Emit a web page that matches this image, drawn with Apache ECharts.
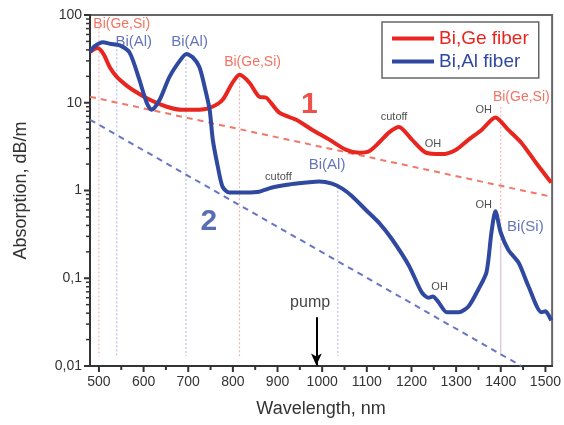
<!DOCTYPE html>
<html><head><meta charset="utf-8">
<script src="https://cdn.jsdelivr.net/npm/echarts@6/dist/echarts.min.js"></script>
<style>html,body{margin:0;padding:0;background:#fff}#c{width:564px;height:425px}</style>
</head><body><div id="c"></div>
<script>
// ---- data ----
const xMajorTicks = [500,600,700,800,900,1000,1100,1200,1300,1400,1500];
const xMinorTicks = [550,650,750,850,950,1050,1150,1250,1350,1450];
const yTickValues = [0.01,0.1,1,10,100];
const yTickLabels = ['0,01','0,1','1','10','100'];
const yMinorTicks = [0.02,0.03,0.04,0.05,0.06,0.07,0.08,0.09,0.2,0.3,0.4,0.5,0.6,0.7,0.8,0.9,2,3,4,5,6,7,8,9,20,30,40,50,60,70,80,90];
const X_MIN = 480, X_MAX = 1515, Y_MIN = 0.01, Y_MAX = 100;

const biGeFiber = [
 [480,38],[497,42],[510,36],[525,25],[540,19.7],[560,16],[576,14],[614,10.8],[652,9.0],[687,8.3],[725,8.3],[754,9.0],[777,10.8],[799,16.9],[815,20.8],[837,16.9],[859,11.7],[875,11.4],[904,7.7],[942,6.4],[978,4.9],[1016,3.8],[1054,2.9],[1083,2.7],[1105,2.8],[1127,3.5],[1150,4.6],[1172,5.3],[1201,3.8],[1232,2.7],[1268,2.6],[1299,2.9],[1328,3.8],[1357,4.9],[1388,6.8],[1417,4.9],[1446,3.5],[1478,2.1],[1513,1.23]
];
const biAlFiber = [
 [480,38],[490,44],[509,49],[525,47],[547,45],[569,37],[591,18],[607,10],[618,8.3],[636,10.8],[658,19.7],[681,30],[696,36],[710,33],[725,25.6],[737,15],[748,8.3],[755,3.8],[766,1.9],[777,1.1],[792,0.95],[830,0.95],[859,0.97],[888,1.08],[926,1.17],[964,1.23],[993,1.27],[1022,1.2],[1045,1.05],[1067,0.86],[1098,0.6],[1127,0.43],[1156,0.28],[1194,0.14],[1223,0.069],[1238,0.06],[1248,0.062],[1261,0.053],[1279,0.041],[1306,0.041],[1328,0.048],[1350,0.075],[1368,0.117],[1379,0.33],[1388,0.58],[1400,0.33],[1417,0.21],[1440,0.15],[1462,0.081],[1491,0.041],[1500,0.042],[1507,0.038],[1513,0.033]
];
const redBaseline = [[480,11.7],[1513,0.85]];
const blueBaseline = [[480,6.4],[1446,0.01]];
const redMarkers = [[500,80],[815,19],[1400,9]];
const blueMarkers = [[540,45],[695,35],[1035,1.1],[1400,0.24]];
const markerBottom = 0.013;
const pumpArrow = [[987,0.036],[987,0.0101]];

// annotations: [wavelength, value, text, group]
const annotations = [
 [551,79,'Bi(Ge,Si)','red'],
 [578,49,'Bi(Al)','blue'],
 [703,49,'Bi(Al)','blue'],
 [844,29,'Bi(Ge,Si)','red'],
 [971,9.5,'1','redBig'],
 [902,1.44,'cutoff','small'],
 [1011,1.97,'Bi(Al)','blue'],
 [1161,6.9,'cutoff','small'],
 [1248,3.4,'OH','small'],
 [1362,8.3,'OH','small'],
 [1446,11.7,'Bi(Ge,Si)','red'],
 [746,0.44,'2','blueBig'],
 [973,0.053,'pump','pump'],
 [1263,0.079,'OH','small'],
 [1362,0.69,'OH','small'],
 [1455,0.39,'Bi(Si)','blue']
];

// ---- styles ----
const RED = '#e8261f', BLUE = '#3049a0';
const styles = {
 red:{color:'#f0503c',fontSize:14},
 blue:{color:'#3d52a8',fontSize:15},
 redBig:{color:RED,fontSize:30,fontWeight:'bold'},
 blueBig:{color:'#3049a0',fontSize:30,fontWeight:'bold'},
 small:{color:'#222',fontSize:11},
 pump:{color:'#111',fontSize:16}
};
const FONT = 'Liberation Sans, Arial, sans-serif';

const series = [];
series.push({name:'Bi,Ge fiber',type:'line',data:biGeFiber,smooth:0.25,symbol:'none',z:5,
  lineStyle:{color:RED,width:4},itemStyle:{color:RED}});
series.push({name:'Bi,Al fiber',type:'line',data:biAlFiber,smooth:0.25,symbol:'none',z:6,
  lineStyle:{color:BLUE,width:4},itemStyle:{color:BLUE}});
series.push({type:'line',data:redBaseline,symbol:'none',silent:true,z:3,
  lineStyle:{color:'#f07868',width:2,type:[6,5]}});
series.push({type:'line',data:blueBaseline,symbol:'none',silent:true,z:3,
  lineStyle:{color:'#6676c4',width:2,type:[6,5]}});
redMarkers.forEach(m=>series.push({type:'line',data:[m,[m[0],markerBottom]],symbol:'none',silent:true,z:2,
  lineStyle:{color:'#f4a8a8',width:1,type:[2,2]}}));
blueMarkers.forEach(m=>series.push({type:'line',data:[m,[m[0],markerBottom]],symbol:'none',silent:true,z:2,
  lineStyle:{color:'#b0b8e4',width:1,type:[2,2]}}));
series.push({type:'line',data:[],symbol:'none',silent:true,
  markLine:{silent:true,symbol:['none','arrow'],symbolSize:[8,12],label:{show:false},
    lineStyle:{color:'#000',width:2,type:'solid'},
    data:[[{coord:pumpArrow[0]},{coord:pumpArrow[1]}]]}});
series.push({type:'scatter',symbolSize:0,silent:true,z:10,
  data:annotations.map(a=>({value:[a[0],a[1]],label:{show:true,position:'inside',formatter:a[2],
    fontFamily:FONT,...styles[a[3]]}}))});

// axis ticks positioned through the axes' own scales: [x, y, length, direction(0=down,1=left)]
const tickData = [].concat(
  xMajorTicks.map(v=>[v,Y_MIN,6,0]), xMinorTicks.map(v=>[v,Y_MIN,4,0]),
  yTickValues.map(v=>[X_MIN,v,6,1]), yMinorTicks.map(v=>[X_MIN,v,4,1])
);
series.push({type:'custom',coordinateSystem:'cartesian2d',silent:true,z:20,clip:false,data:tickData,
  renderItem:function(params,api){
    const p = api.coord([api.value(0), api.value(1)]);
    const len = api.value(2), dir = api.value(3);
    if(dir===0){
      return {type:'line',shape:{x1:p[0],y1:p[1],x2:p[0],y2:p[1]+len},style:{stroke:'#333',lineWidth:2}};
    }
    return {type:'line',shape:{x1:p[0]-len,y1:p[1],x2:p[0],y2:p[1]},style:{stroke:'#333',lineWidth:len>=6?2:1.5}};
  }});

const option = {
 animation:false,
 backgroundColor:'#fff',
 grid:{left:90,right:11,top:15,bottom:59,show:true,borderColor:'#666',borderWidth:2,backgroundColor:'transparent'},
 legend:{data:[{name:'Bi,Ge fiber',textStyle:{color:'#e8261f'}},{name:'Bi,Al fiber',textStyle:{color:'#3049a0'}}],
  orient:'vertical',left:382,top:22,padding:[7,10,7,10],itemGap:4,itemWidth:42,itemHeight:4,icon:'rect',
  borderColor:'#666',borderWidth:1.5,backgroundColor:'#fff',
  textStyle:{fontSize:19,fontFamily:FONT}},
 xAxis:{type:'value',min:X_MIN,max:X_MAX,name:'Wavelength, nm',nameLocation:'middle',nameGap:34,
   nameTextStyle:{fontSize:18,color:'#333',fontFamily:FONT},
   axisLine:{show:true,onZero:false,lineStyle:{color:'#333',width:2}},splitLine:{show:false},
   axisTick:{show:false},
   axisLabel:{show:true,customValues:xMajorTicks,fontSize:14,color:'#333',margin:9,fontFamily:FONT,formatter:v=>String(v)}},
 yAxis:{type:'log',logBase:10,min:Y_MIN,max:Y_MAX,name:'Absorption, dB/m',nameLocation:'middle',nameGap:60,
   nameTextStyle:{fontSize:18,color:'#333',fontFamily:FONT},
   axisLine:{show:true,onZero:false,lineStyle:{color:'#333',width:2}},splitLine:{show:false},
   axisTick:{show:false},
   axisLabel:{show:true,customValues:yTickValues,fontSize:14,color:'#333',margin:8,fontFamily:FONT,
     formatter:v=>{const i=yTickValues.findIndex(t=>Math.abs(Math.log10(t)-Math.log10(v))<1e-6);return i>=0?yTickLabels[i]:'';}}},
 series:series
};
const chart = echarts.init(document.getElementById('c'),null,{renderer:'canvas'});
chart.setOption(option);
</script></body></html>
